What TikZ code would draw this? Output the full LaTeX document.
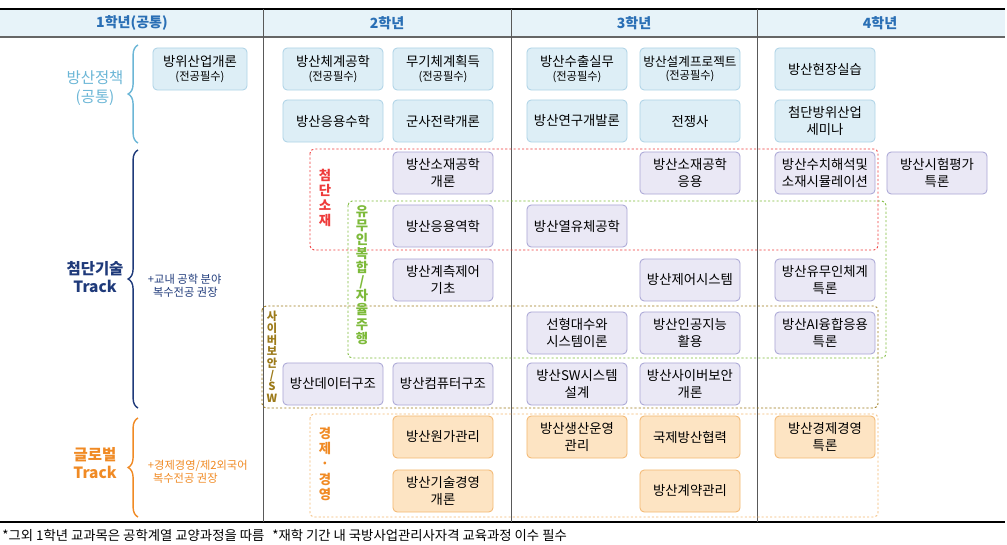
\documentclass[tikz,border=0pt]{standalone}
\usepackage{fontspec}
\setmainfont{Noto Sans CJK KR}
\usetikzlibrary{decorations.pathreplacing}
\definecolor{polfill}{HTML}{DDEEF6}
\definecolor{poldraw}{HTML}{AED3E6}
\definecolor{techfill}{HTML}{EAE8F5}
\definecolor{techdraw}{HTML}{A9A5D5}
\definecolor{globfill}{HTML}{FDE4C3}
\definecolor{globdraw}{HTML}{F3B872}
\definecolor{polcol}{HTML}{6BB6D6}
\definecolor{techcol}{HTML}{1F3A7A}
\definecolor{globcol}{HTML}{F08A24}
\definecolor{headcol}{HTML}{2A6FB5}
\definecolor{redcol}{HTML}{EE3B3B}
\definecolor{greencol}{HTML}{7DBA3A}
\definecolor{olivecol}{HTML}{9C7A1A}
\tikzstyle{course}=[rounded corners=3pt, line width=0.6pt, minimum width=2.5cm, minimum height=1.05cm, align=center, font=\fontsize{9.5}{11.5}\selectfont, inner sep=1pt]
\tikzstyle{pol}=[course, fill=polfill, draw=poldraw]
\tikzstyle{tech}=[course, fill=techfill, draw=techdraw]
\tikzstyle{glob}=[course, fill=globfill, draw=globdraw]
\tikzstyle{region}=[rounded corners=3pt, line width=0.6pt, dash pattern=on 1.5pt off 1.5pt]
\tikzstyle{vlabel}=[align=center, inner sep=0pt]
\newcommand{\req}[1]{#1\\[-2pt]{\fontsize{8}{9}\selectfont(전공필수)}}
\begin{document}
\begin{tikzpicture}[x=0.025cm, y=-0.025cm]
 \useasboundingbox (0,0) rectangle (1007,545);
 % header
 \fill[polfill!70] (0,10) rectangle (1005,37);
 \draw[line width=1.2pt] (0,9) -- (1005,9);
 \draw[line width=0.8pt, gray!80!black] (0,37) -- (1005,37);
 \draw[line width=1.2pt] (0,522) -- (1005,522);
 \foreach \x in {263,511,757}
  \draw[gray!70!black, line width=0.6pt] (\x,9) -- (\x,522);
 \node[text=headcol, font=\bfseries\fontsize{10}{12}\selectfont] (y1) at (132,23) {1학년(공통)};
 \node[text=headcol, font=\bfseries\fontsize{10}{12}\selectfont] (y2) at (387,23) {2학년};
 \node[text=headcol, font=\bfseries\fontsize{10}{12}\selectfont] (y3) at (634,23) {3학년};
 \node[text=headcol, font=\bfseries\fontsize{10}{12}\selectfont] (y4) at (880,23) {4학년};

 % tracks
 \node[text=polcol, align=center, font=\fontsize{11}{13}\selectfont] (pol) at (95,88) {방산정책\\(공통)};
 \draw[polcol, line width=1pt, decorate, decoration={brace, amplitude=7pt}] (138,143) -- (138,45);
 \node[text=techcol, align=center, font=\bfseries\fontsize{11}{13}\selectfont] (tech) at (95,277) {첨단기술\\Track};
 \draw[techcol, line width=1pt, decorate, decoration={brace, amplitude=7pt}] (138,408) -- (138,150);
 \node[text=techcol, align=left, anchor=west, font=\fontsize{8}{9.5}\selectfont] (technote) at (143,286) {+교내 공학 분야\\\ \ 복수전공 권장};
 \node[text=globcol, align=center, font=\bfseries\fontsize{11}{13}\selectfont] (glob) at (95,463) {글로벌\\Track};
 \draw[globcol, line width=1pt, decorate, decoration={brace, amplitude=7pt}] (138,517) -- (138,418);
 \node[text=globcol, align=left, anchor=west, font=\fontsize{8}{9.5}\selectfont] (globnote) at (143,472) {+경제경영/제2외국어\\\ \ 복수전공 권장};

 % dashed regions
 \draw[region, redcol] (310,149) rectangle (878,250);
 \draw[region, greencol] (348,201) rectangle (886,358);
 \draw[region, olivecol] (262,306) rectangle (878,408);
 \draw[region, globdraw] (310,414) rectangle (878,517);
 \node[vlabel, text=redcol, font=\bfseries\fontsize{9.5}{10.5}\selectfont] (lmat) at (325,198) {첨\\단\\소\\재};
 \node[vlabel, text=greencol, font=\bfseries\fontsize{9.5}{10}\selectfont] (lauto) at (362,275) {유\\무\\인\\복\\합\\/\\자\\율\\주\\행};
 \node[vlabel, text=olivecol, font=\bfseries\fontsize{8}{8.3}\selectfont] (lcyber) at (272,357) {사\\이\\버\\보\\안\\/\\S\\W};
 \node[vlabel, text=globcol, font=\bfseries\fontsize{9.5}{11}\selectfont] (lecon) at (325,464) {경\\제\\·\\경\\영};

 % courses
 \node[pol, minimum width=2.35cm] (c11) at (200,69) {\req{방위산업개론}};
 \node[pol] (c21) at (333,69) {\req{방산체계공학}};
 \node[pol] (c22) at (443,69) {\req{무기체계획득}};
 \node[pol] (c23) at (333,121) {방산응용수학};
 \node[pol] (c24) at (443,121) {군사전략개론};
 \node[pol] (c31) at (577,69) {\req{방산수출실무}};
 \node[pol] (c32) at (690,69) {\req{{\fontsize{9}{11}\selectfont 방산설계프로젝트}}};
 \node[pol] (c33) at (577,121) {방산연구개발론};
 \node[pol] (c34) at (690,121) {전쟁사};
 \node[pol] (c41) at (825,69) {방산현장실습};
 \node[pol] (c42) at (825,121) {첨단방위산업\\세미나};

 \node[tech] (t23) at (443,173) {방산소재공학\\개론};
 \node[tech] (t33) at (690,173) {방산소재공학\\응용};
 \node[tech] (t43) at (825,173) {방산수치해석및\\소재시뮬레이션};
 \node[tech] (t44) at (937,173) {방산시험평가\\특론};
 \node[tech] (t24) at (443,226) {방산응용역학};
 \node[tech] (t34) at (577,226) {방산열유체공학};
 \node[tech] (t25) at (443,280) {방산계측제어\\기초};
 \node[tech] (t35) at (690,280) {방산제어시스템};
 \node[tech] (t45) at (825,280) {방산유무인체계\\특론};
 \node[tech] (t36) at (577,333) {선형대수와\\시스템이론};
 \node[tech] (t37) at (690,333) {방산인공지능\\활용};
 \node[tech] (t46) at (825,333) {방산AI융합응용\\특론};
 \node[tech] (t27) at (333,384) {방산데이터구조};
 \node[tech] (t28) at (443,384) {방산컴퓨터구조};
 \node[tech] (t38) at (577,384) {방산SW시스템\\설계};
 \node[tech] (t39) at (690,384) {방산사이버보안\\개론};

 \node[glob] (g21) at (443,437) {방산원가관리};
 \node[glob] (g31) at (577,437) {방산생산운영\\관리};
 \node[glob] (g32) at (690,437) {국제방산협력};
 \node[glob] (g41) at (825,437) {방산경제경영\\특론};
 \node[glob] (g22) at (443,491) {방산기술경영\\개론};
 \node[glob] (g33) at (690,491) {방산계약관리};

 % notes
 \node[anchor=west, font=\fontsize{9.5}{11}\selectfont, inner sep=0pt] (note1) at (2,535) {*그외 1학년 교과목은 공학계열 교양과정을 따름};
 \node[anchor=west, font=\fontsize{9.5}{11}\selectfont, inner sep=0pt] (note2) at (272,535) {*재학 기간 내 국방사업관리사자격 교육과정 이수 필수};
\end{tikzpicture}
\end{document}
